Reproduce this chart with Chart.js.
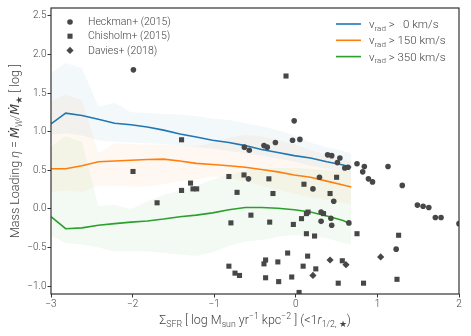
<!DOCTYPE html>
<html>
<head>
<meta charset="utf-8">
<script src="https://cdn.jsdelivr.net/npm/chart.js@4"></script>
<style>
  body { margin: 0; background: #fff; }
  #wrap { width: 471px; height: 336px; }
</style>
</head>
<body>
<div id="wrap"><canvas id="massLoadingChart" width="471" height="336"></canvas></div>
<script>
// bins in log Sigma_SFR
const xBins = [-3.0, -2.82, -2.62, -2.42, -2.22, -2.02, -1.82, -1.62, -1.42, -1.22, -1.02, -0.82, -0.62, -0.42, -0.22, -0.02, 0.18, 0.38, 0.58, 0.68];

// median + spread for each v_rad cut
const blueMed = [1.10, 1.24, 1.21, 1.16, 1.11, 1.09, 1.06, 1.02, 0.97, 0.93, 0.89, 0.86, 0.82, 0.77, 0.73, 0.69, 0.66, 0.61, 0.57, 0.54];
const blueHi = [1.76, 1.89, 1.82, 1.33, 1.37, 1.25, 1.24, 1.23, 1.22, 1.20, 1.17, 1.15, 1.11, 1.07, 1.02, 0.95, 0.86, 0.80, 0.75, 0.72];
const blueLo = [0.96, 0.98, 0.95, 0.89, 0.87, 0.86, 0.85, 0.84, 0.82, 0.80, 0.78, 0.75, 0.72, 0.69, 0.65, 0.61, 0.56, 0.52, 0.49, 0.47];

const orangeMed = [0.52, 0.52, 0.56, 0.61, 0.62, 0.63, 0.64, 0.645, 0.62, 0.59, 0.575, 0.56, 0.54, 0.51, 0.48, 0.44, 0.41, 0.36, 0.31, 0.285];
const orangeHi = [1.39, 1.48, 1.41, 0.72, 0.85, 0.84, 0.83, 0.83, 0.82, 0.81, 0.86, 0.92, 0.96, 0.94, 0.89, 0.84, 0.76, 0.70, 0.64, 0.62];
const orangeLo = [0.22, 0.24, 0.22, 0.30, 0.30, 0.29, 0.29, 0.32, 0.36, 0.38, 0.42, 0.40, 0.36, 0.30, 0.25, 0.20, 0.15, 0.12, 0.08, 0.06];

const greenMed = [-0.10, -0.255, -0.245, -0.21, -0.19, -0.17, -0.155, -0.13, -0.10, -0.08, -0.05, -0.01, 0.02, 0.02, 0.01, -0.01, -0.04, -0.09, -0.15, -0.20];
const greenHi = [0.81, 0.94, 0.87, 0.04, 0.05, 0.00, 0.10, 0.18, 0.24, 0.30, 0.38, 0.44, 0.50, 0.52, 0.53, 0.53, 0.52, 0.50, 0.49, 0.48];
const greenLo = [-0.35, -0.44, -0.46, -0.50, -0.55, -0.55, -0.55, -0.57, -0.59, -0.61, -0.56, -0.48, -0.42, -0.40, -0.36, -0.34, -0.35, -0.38, -0.44, -0.46];

const lineLabels = ['  0', '150', '350'];

// observations [x, y]
const heckman = [
  [-1.99, 1.80], [-0.02, 1.14], [-0.04, 0.89], [0.05, 0.90], [-0.25, 0.86], [-0.39, 0.82],
  [-0.35, 0.80], [-0.63, 0.80], [-0.57, 0.76], [0.39, 0.70], [0.44, 0.69], [0.54, 0.66],
  [0.51, 0.60], [0.60, 0.53], [0.64, 0.54], [0.75, 0.585], [0.84, 0.55], [1.13, 0.55],
  [0.82, 0.48], [0.89, 0.39], [0.94, 0.35], [1.305, 0.305], [1.49, 0.05], [1.56, 0.035],
  [1.63, 0.02], [1.71, -0.11], [1.78, -0.11], [2.0, -0.19], [-0.58, 0.39], [0.29, 0.41],
  [0.21, 0.26], [0.465, 0.10], [0.31, -0.04], [0.43, -0.12], [0.31, -0.16], [0.44, -0.21],
  [0.65, -0.18], [1.23, -0.52]
];
const chisholm = [
  [-1.40, 0.895], [-0.12, 1.72], [-1.995, 0.485], [-1.29, 0.335], [-1.40, 0.24], [-1.26, 0.26],
  [-1.215, 0.26], [-1.70, 0.08], [-0.82, 0.42], [-0.72, 0.215], [-0.795, -0.18], [-0.82, -0.74],
  [-0.745, -0.83], [-0.69, -0.86], [-0.635, 0.44], [-0.33, 0.39], [0.10, 0.32], [0.50, 0.41],
  [-0.28, 0.20], [0.42, 0.20], [-0.55, -0.08], [-0.32, -0.17], [-0.03, -0.20], [0.07, -0.125],
  [0.15, -0.04], [0.13, -0.06], [0.34, -0.06], [0.13, -0.32], [0.23, -0.35], [0.75, -0.32],
  [-0.10, -0.57], [0.145, -0.61], [-0.37, -0.66], [-0.39, -0.71], [-0.22, -0.685], [-0.37, -0.89],
  [-0.21, -0.94], [-0.05, -0.88], [0.09, -0.74], [0.245, -0.775], [0.52, -0.96], [0.83, -0.96],
  [0.04, -1.08], [0.57, -0.67], [1.26, -0.34], [1.24, -0.91]
];
const davies = [[0.42, -0.66], [0.21, -0.86], [0.615, -0.72], [1.04, -0.62]];
const obsLabels = ['Heckman+ (2015)', 'Chisholm+ (2015)', 'Davies+ (2018)'];

const xTicks = [-3, -2, -1, 0, 1, 2];
const yTicks = [-1.0, -0.5, 0.0, 0.5, 1.0, 1.5, 2.0, 2.5];

const FONT = 'Roboto, "DejaVu Sans", sans-serif';
const TXT = '#444';
const BLUE = '#1f77b4', ORANGE = '#ff7f0e', GREEN = '#2ca02c';
const DOT = '#474747';

const pts = (xs, ys) => xs.map((x, i) => ({ x: x, y: ys[i] }));
const xy = arr => arr.map(p => ({ x: p[0], y: p[1] }));
const minus = s => String(s).replace('-', '\u2212');

function band(hi, lo, rgba) {
  return [
    { type: 'line', data: pts(xBins, hi), fill: '+1', backgroundColor: rgba, borderWidth: 0, pointRadius: 0, order: 3 },
    { type: 'line', data: pts(xBins, lo), fill: false, borderWidth: 0, pointRadius: 0, order: 3 }
  ];
}
function medLine(ys, col) {
  return { type: 'line', data: pts(xBins, ys), borderColor: col, borderWidth: 1.6, pointRadius: 0, fill: false, tension: 0, order: 2 };
}
function obs(arr, style, r) {
  return { type: 'scatter', data: xy(arr), pointStyle: style, pointRadius: r, backgroundColor: DOT, borderWidth: 0, order: 1 };
}

// text with sub/superscripts: runs are [text, kind, italic], kind 0 normal, 1 sub, 2 sup
function richWidth(ctx, runs, size) {
  let w = 0;
  runs.forEach(r => {
    const s = r[1] ? size * 0.7 : size;
    ctx.font = (r[2] ? 'italic ' : '') + '300 ' + s + 'px ' + FONT;
    w += ctx.measureText(r[0]).width;
  });
  return w;
}
function drawRich(ctx, runs, x, y, size, align) {
  let cx = align === 'center' ? x - richWidth(ctx, runs, size) / 2 : x;
  ctx.textAlign = 'left';
  ctx.textBaseline = 'alphabetic';
  runs.forEach(r => {
    const s = r[1] ? size * 0.7 : size;
    const dy = r[1] === 1 ? size * 0.22 : (r[1] === 2 ? -size * 0.42 : 0);
    ctx.font = (r[2] ? 'italic ' : '') + '300 ' + s + 'px ' + FONT;
    ctx.fillText(r[0], cx, y + dy);
    cx += ctx.measureText(r[0]).width;
  });
}

const xTitle = [['\u03a3', 0], ['SFR', 1], [' [ log M', 0], ['sun', 1], [' yr', 0], ['\u22121', 2], [' kpc', 0], ['\u22122', 2],
  [' ] (<1', 0], ['r', 0, true], ['1/2, \u2605', 1], [')', 0]];
const yTitle = [['Mass Loading ', 0], ['\u03b7', 0, true], [' = ', 0], ['\u1e40', 0, true], ['W', 1, true], ['/', 0],
  ['\u1e40', 0, true], ['\u2605', 1], [' [ log ]', 0]];

const decorations = {
  id: 'decorations',
  afterDraw(chart) {
    const ctx = chart.ctx;
    const a = chart.chartArea;
    ctx.save();
    // frame
    ctx.strokeStyle = '#333';
    ctx.lineWidth = 1.2;
    ctx.strokeRect(a.left, a.top, a.right - a.left, a.bottom - a.top);

    ctx.fillStyle = TXT;
    drawRich(ctx, xTitle, (a.left + a.right) / 2, 324, 12.5, 'center');
    ctx.save();
    ctx.translate(19, (a.top + a.bottom) / 2);
    ctx.rotate(-Math.PI / 2);
    drawRich(ctx, yTitle, 0, 0, 12.5, 'center');
    ctx.restore();

    // marker legend
    const mk = [['circle', 2.8], ['rect', 3.6], ['rectRot', 3.6]];
    mk.forEach((m, i) => {
      const y = 22 + i * 14.2;
      ctx.fillStyle = DOT;
      Chart.helpers.drawPoint(ctx, { pointStyle: m[0], radius: m[1], rotation: 0, borderWidth: 0 }, 70, y);
      ctx.fillStyle = TXT;
      ctx.font = '300 10.5px ' + FONT;
      ctx.textBaseline = 'middle';
      ctx.textAlign = 'left';
      ctx.fillText(obsLabels[i], 88, y + 0.5);
    });

    // line legend
    const cols = [BLUE, ORANGE, GREEN];
    cols.forEach((c, i) => {
      const y = 24 + i * 16.3;
      ctx.strokeStyle = c;
      ctx.lineWidth = 1.6;
      ctx.beginPath();
      ctx.moveTo(336, y);
      ctx.lineTo(361, y);
      ctx.stroke();
      ctx.fillStyle = TXT;
      drawRich(ctx, [['v', 0], ['rad', 1], [' > ' + lineLabels[i] + ' km/s', 0]], 369, y + 4, 11.5, 'left');
    });
    ctx.restore();
  }
};

const tickFont = { family: FONT, size: 10, weight: '300' };

new Chart(document.getElementById('massLoadingChart'), {
  type: 'scatter',
  data: {
    datasets: [
      ...band(blueHi, blueLo, 'rgba(31,119,180,0.055)'),
      ...band(orangeHi, orangeLo, 'rgba(255,127,14,0.055)'),
      ...band(greenHi, greenLo, 'rgba(44,160,44,0.055)'),
      medLine(blueMed, BLUE),
      medLine(orangeMed, ORANGE),
      medLine(greenMed, GREEN),
      obs(heckman, 'circle', 2.8),
      obs(chisholm, 'rect', 3.6),
      obs(davies, 'rectRot', 3.6)
    ]
  },
  options: {
    responsive: false,
    animation: false,
    layout: { padding: { top: 8, right: 12, left: 0, bottom: 0 } },
    plugins: { legend: { display: false }, tooltip: { enabled: false } },
    scales: {
      x: {
        type: 'linear', min: -3, max: 2,
        afterBuildTicks: s => { s.ticks = xTicks.map(v => ({ value: v })); },
        afterFit: s => { s.height = 42; },
        ticks: { callback: v => minus(v), font: tickFont, color: TXT, padding: 1, maxRotation: 0 },
        grid: { drawOnChartArea: false, drawTicks: true, tickLength: 3.5, color: '#333' },
        border: { display: false }
      },
      y: {
        type: 'linear', min: -1.1, max: 2.6,
        afterBuildTicks: s => { s.ticks = yTicks.map(v => ({ value: v })); },
        afterFit: s => { s.width = 51; },
        ticks: { callback: v => minus(v.toFixed(1)), font: tickFont, color: TXT, padding: 1 },
        grid: { drawOnChartArea: false, drawTicks: true, tickLength: 3.5, color: '#333' },
        border: { display: false }
      }
    }
  },
  plugins: [decorations]
});
</script>
</body>
</html>
